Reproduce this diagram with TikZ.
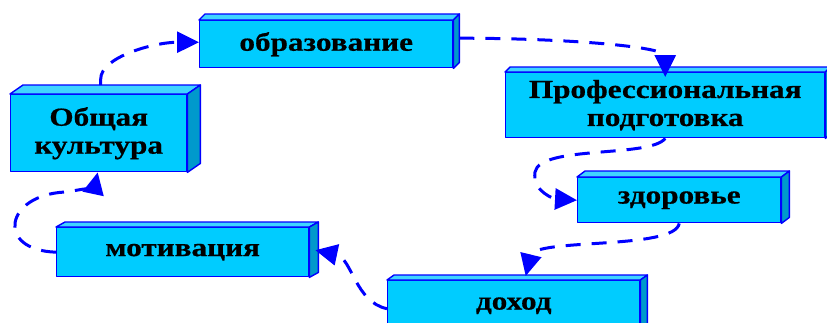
\documentclass[tikz,border=0pt]{standalone}
\usepackage{fontspec}
\newfontfamily\boxfont{Liberation Serif}[FakeStretch=1.2,FakeBold=0.6]
\usetikzlibrary{arrows.meta,calc}
\definecolor{frontc}{HTML}{00CCFF}
\definecolor{topc}{HTML}{40D4FF}
\definecolor{sidec}{HTML}{0099CC}
\definecolor{linec}{HTML}{0000FF}
\newcommand\threedee[3]{%
  \path[face,fill=topc] (#1.north west) -- ([shift={(#2,-#3)}]#1.north west) -- ([shift={(#2,-#3)}]#1.north east) -- (#1.north east) -- cycle;
  \path[face,fill=sidec] (#1.north east) -- ([shift={(#2,-#3)}]#1.north east) -- ([shift={(#2,-#3)}]#1.south east) -- (#1.south east) -- cycle;
}
\begin{document}
\begin{tikzpicture}[x=1pt,y=-1pt,
  face/.style={draw=linec,line width=1.4pt,line join=round},
  box/.style={face,fill=frontc,inner sep=0pt,align=center,anchor=north west,
    font=\boxfont\bfseries\fontsize{26}{28}\selectfont},
  conn/.style={draw=linec,line width=3pt,dash pattern=on 15pt off 11pt,
    -{Triangle[length=22pt,width=21pt]}}]
\useasboundingbox (0,0) rectangle (827,322);
\clip (0,0) rectangle (827,322);

\node[box,minimum width=253pt,minimum height=47pt] (obr) at (199,20) {образование};
\threedee{obr}{6}{6}
\node[box,minimum width=176pt,minimum height=77pt] (kult) at (10,94) {Общая\\культура};
\threedee{kult}{13}{9}
\node[box,minimum width=319pt,minimum height=65pt] (prof) at (505,72) {Профессиональная\\подготовка};
\threedee{prof}{5}{5}
\node[box,minimum width=203pt,minimum height=45pt] (zdor) at (577,177) {здоровье};
\threedee{zdor}{8}{6}
\node[box,minimum width=252pt,minimum height=50pt] (doh) at (387,280) {доход};
\threedee{doh}{7}{5}
\node[box,minimum width=252pt,minimum height=49pt] (motiv) at (56,227) {мотивация};
\threedee{motiv}{9}{5}

\draw[conn] ([shift={(2,-9)}]kult.north) -- ++(0,-6) .. controls +(0,-22) and +(-45,0) .. ([yshift=2]obr.west);
\draw[conn] ([shift={(6,-6)}]obr.east) .. controls +(110,0) and +(0,-30) .. ([yshift=-5]prof.north);
\draw[conn] (prof.south) .. controls (650,158) and (540,145) .. (535,172) .. controls (532,192) and (555,199) .. (zdor.west);
\draw[conn] (zdor.south) .. controls (675,250) and (535,238) .. ([shift={(12,-4)}]doh.north);
\draw[conn] ([yshift=-3]doh.west) .. controls (355,302) and (352,258) .. ([shift={(6,-2)}]motiv.east);
\draw[conn] (motiv.west) .. controls (-5,250) and (5,195) .. (65,192) .. controls (82,190) and (95,185) .. ([xshift=-1]kult.south);
\end{tikzpicture}
\end{document}
